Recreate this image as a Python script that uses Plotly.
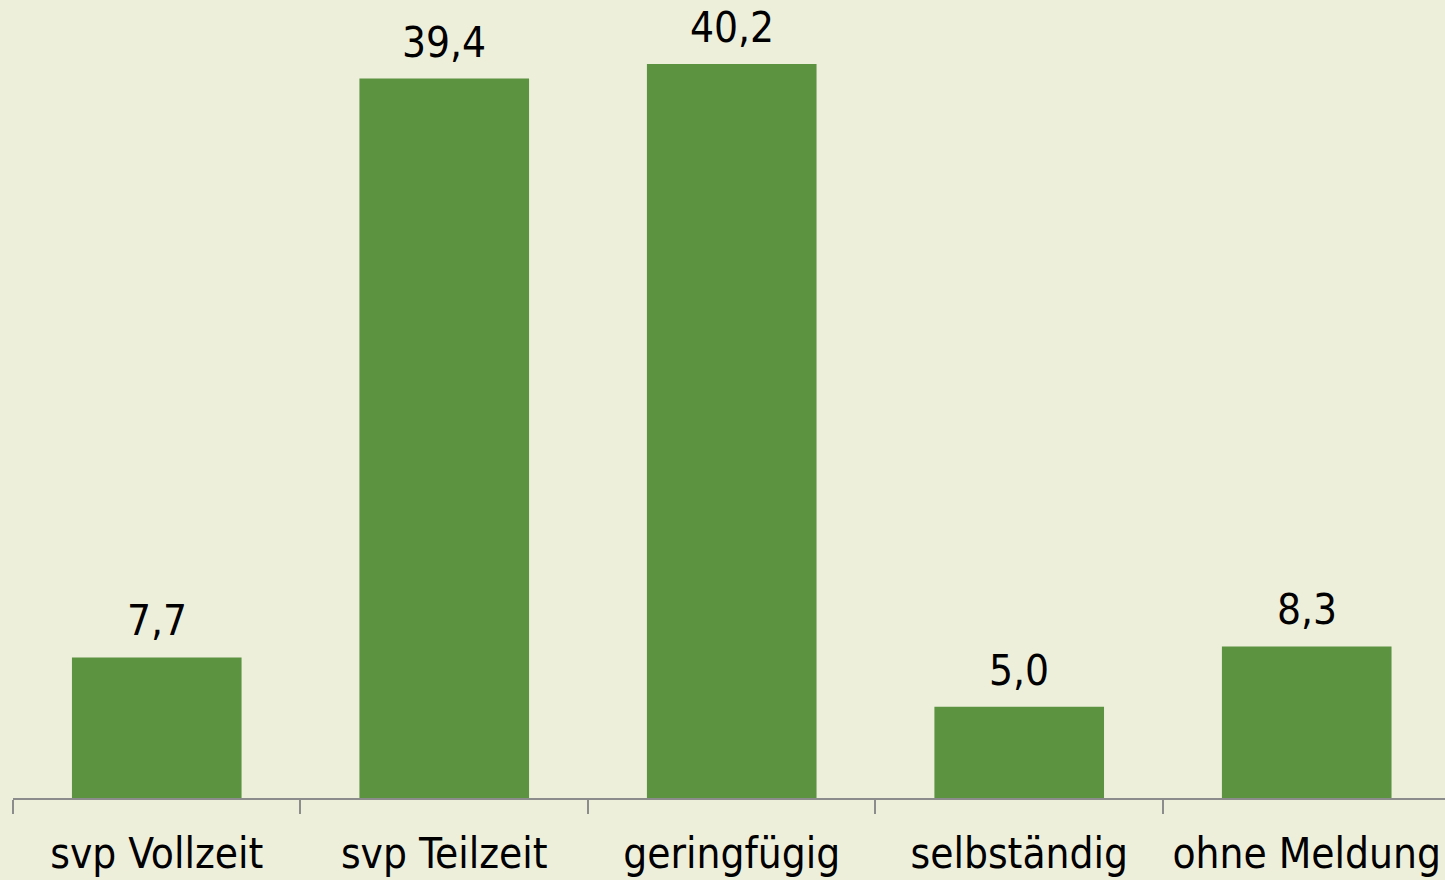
import plotly.graph_objects as go

categories = ["svp Vollzeit", "svp Teilzeit", "geringfügig", "selbständig", "ohne Meldung"]
values = [7.7, 39.4, 40.2, 5.0, 8.3]
labels = [f"{v:.1f}".replace(".", ",") for v in values]

FONT = "DejaVu Sans Condensed, Tahoma, DejaVu Sans, sans-serif"
BG = "#EEEFDB"

fig = go.Figure(go.Bar(
    x=categories, y=values, marker_color="#5B9340", marker_line_width=0,
    width=0.59,
))

for c, v, t in zip(categories, values, labels):
    fig.add_annotation(x=c, y=v, text=t, showarrow=False, yanchor="bottom",
                       yshift=10, font=dict(family=FONT, size=42, color="#000000"))

fig.update_layout(
    width=1445, height=880,
    margin=dict(l=13, r=0, t=0, b=82),
    paper_bgcolor=BG, plot_bgcolor=BG,
    showlegend=False,
    bargap=0.41,
)
fig.update_xaxes(
    range=[-0.5, 4.481], showline=True, linecolor="#8C8C8C", linewidth=2,
    ticks="outside", ticklen=14, tickcolor="#8C8C8C", tickwidth=2,
    tickson="boundaries", showgrid=False, ticklabelstandoff=18,
    tickfont=dict(family=FONT, size=42, color="#000000"),
)
fig.update_yaxes(range=[0, 43.7], visible=False, showgrid=False, zeroline=False)

fig.write_html("out.html", config={"displayModeBar": False},
               post_script="document.body.style.margin='0';document.body.style.background='#EEEFDB';")
